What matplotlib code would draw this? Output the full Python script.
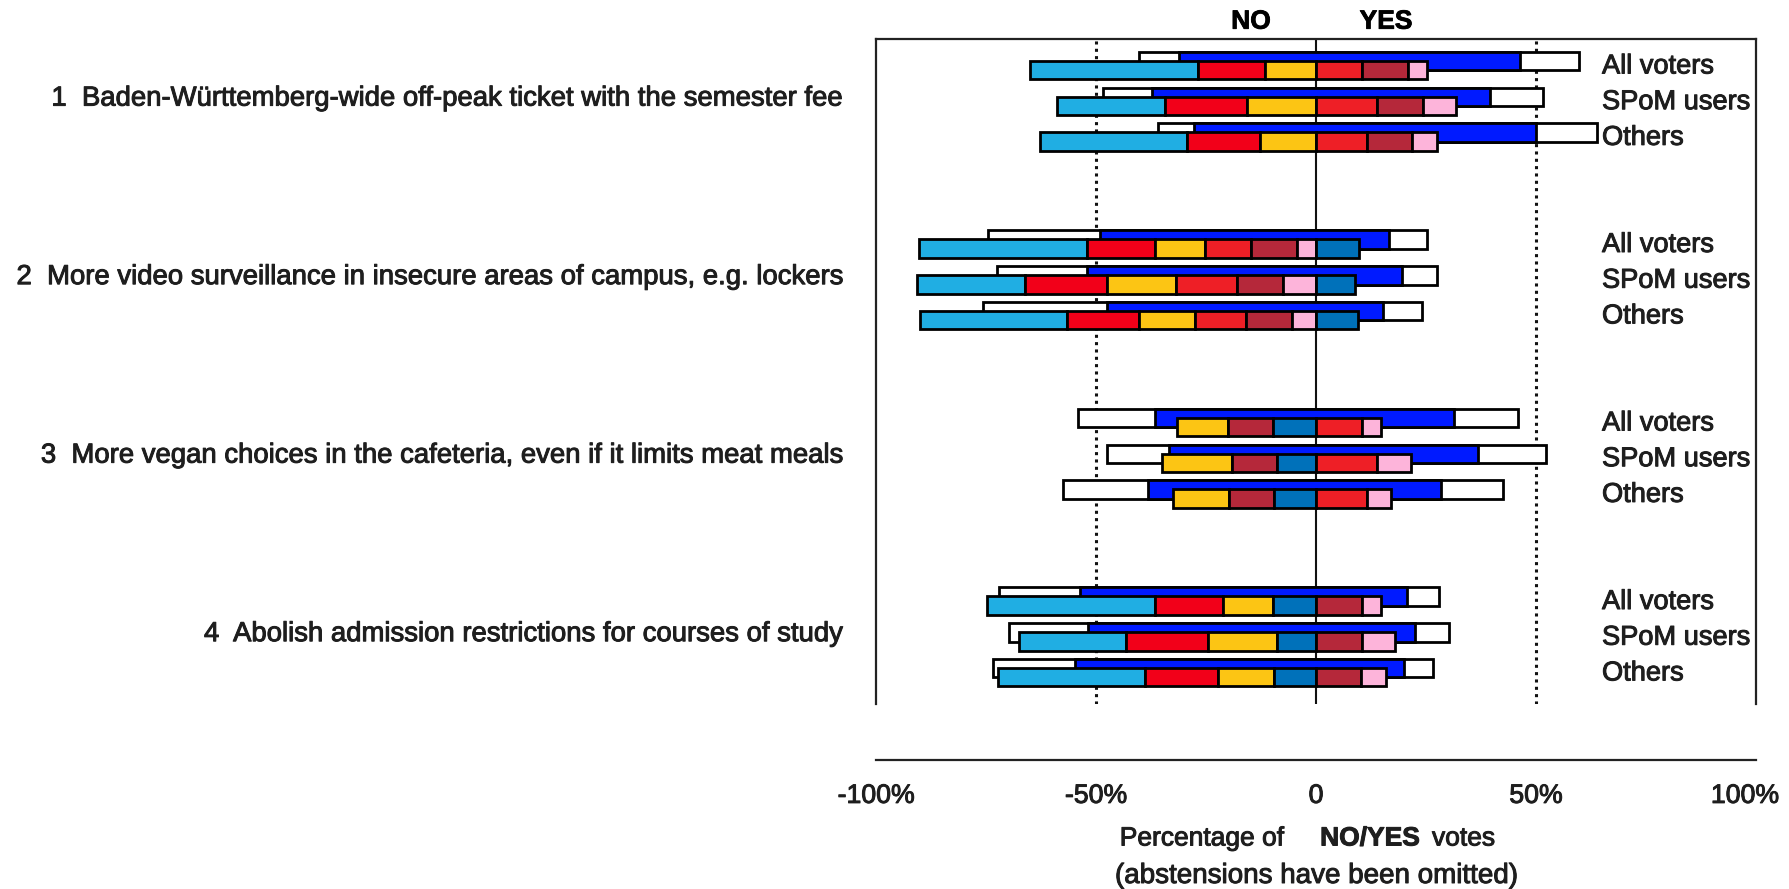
import matplotlib
matplotlib.use("Agg")
import matplotlib.pyplot as plt
import matplotlib.transforms as mtransforms
import matplotlib.patheffects as pe

plt.rcParams['font.family'] = ['Liberation Sans', 'DejaVu Sans']

# ---------------- data ----------------
questions = [
    "1  Baden-Württemberg-wide off-peak ticket with the semester fee",
    "2  More video surveillance in insecure areas of campus, e.g. lockers",
    "3  More vegan choices in the cafeteria, even if it limits meat meals",
    "4  Abolish admission restrictions for courses of study",
]
groups = ["All voters", "SPoM users", "Others"]

party_colors = ['#20AEE3', '#F20019', '#FCC514', '#EE1F26', '#B5283A', '#FDB4DA', '#0071BA']

# share of each party-list per voter group (%)
shares_all = [38.2, 15.3, 11.5, 10.4, 10.4, 4.4, 9.7]
shares_spom = [24.5, 18.6, 15.7, 13.9, 10.4, 7.6, 8.8]
shares_others = [33.4, 16.5, 12.8, 11.6, 10.3, 5.5, 9.5]

# recommendation of each party per question: -1 = NO, 1 = YES, 0 = none
positions_q1 = [-1, -1, -1, 1, 1, 1, 0]
positions_q2 = [-1, -1, -1, -1, -1, -1, 1]
positions_q3 = [0, 0, -1, 1, -1, 1, -1]
positions_q4 = [-1, -1, -1, 0, 1, 1, -1]

# votes incl. abstentions (blue bar), per question: [All, SPoM, Others]
blue_no = [[31.2, 37.2, 27.8], [49.2, 52.0, 47.6], [36.6, 33.3, 38.2], [53.6, 51.8, 54.8]]
blue_yes = [[46.3, 39.6, 49.9], [16.7, 19.6, 15.2], [31.4, 36.9, 28.3], [20.7, 22.4, 20.0]]
# votes with abstensions omitted (white bar)
white_no = [[40.2, 48.5, 35.8], [74.6, 72.4, 75.7], [54.0, 47.4, 57.5], [72.1, 69.7, 73.5]]
white_yes = [[59.7, 51.5, 63.9], [25.3, 27.5, 24.2], [46.0, 52.3, 42.4], [27.9, 30.3, 26.7]]

tick_vals = [-100, -50, 0, 50, 100]
tick_labels = ['-100%', '-50%', '0', '50%', '100%']

# ---------------- figure ----------------
W, H = 1789, 889
fig = plt.figure(figsize=(W / 100, H / 100), dpi=100)
txt_col = '#1e1e1e'
thick = [pe.withStroke(linewidth=0.7, foreground=txt_col)]
thick_b = [pe.withStroke(linewidth=0.6, foreground='black')]

ax = fig.add_axes([876 / W, 1 - 704 / H, 880 / W, (704 - 38.5) / H])
ax.set_xlim(-100, 100)
ax.set_ylim(17.88, -0.76)
for s in ['top', 'left', 'right']:
    ax.spines[s].set_linewidth(1.6)
    ax.spines[s].set_color('#222222')
ax.spines['bottom'].set_visible(False)
ax.set_xticks([])
ax.set_yticks([])

ax.axvline(0, color='#111111', lw=1.5, zorder=1)
for xv in (-50, 50):
    ax.axvline(xv, color='#111111', lw=2.2, ls=(0, (1, 1.4)), zorder=1)

all_shares = [shares_all, shares_spom, shares_others]
all_pos = [positions_q1, positions_q2, positions_q3, positions_q4]

bh = 0.515
off = 0.126
for q in range(4):
    for g in range(3):
        c = 5 * q + g
        yu, yl = c - off, c + off
        wn, wy = white_no[q][g], white_yes[q][g]
        ax.barh(yu, wn + wy, left=-wn, height=bh, color='white', edgecolor='black',
                linewidth=2, zorder=3)
        bn, by = blue_no[q][g], blue_yes[q][g]
        ax.barh(yu, bn + by, left=-bn, height=bh, color='#001AFF', edgecolor='black',
                linewidth=2, zorder=4)
        sh = all_shares[g]
        pos = all_pos[q]
        no_idx = [i for i in range(7) if pos[i] < 0]
        yes_idx = [i for i in range(7) if pos[i] > 0]
        left = -sum(sh[i] for i in no_idx)
        for i in no_idx:
            ax.barh(yl, sh[i], left=left, height=bh, color=party_colors[i],
                    edgecolor='black', linewidth=2, zorder=5)
            left += sh[i]
        left = 0
        for i in yes_idx:
            ax.barh(yl, sh[i], left=left, height=bh, color=party_colors[i],
                    edgecolor='black', linewidth=2, zorder=5)
            left += sh[i]

trans_l = mtransforms.blended_transform_factory(fig.transFigure, ax.transData)
for q, label in enumerate(questions):
    ax.text(842 / W, 5 * q + 1.12, label, transform=trans_l, ha='right', va='baseline',
            fontsize=19.8, color=txt_col, clip_on=False, path_effects=thick)
    for g, gl in enumerate(groups):
        ax.text(1602 / W, 5 * q + g + 0.22, gl, transform=trans_l, ha='left',
                va='baseline', fontsize=19.6, color=txt_col, clip_on=False,
                path_effects=thick)

# x axis
ax2 = fig.add_axes([876 / W, 1 - 760 / H, 880 / W, 0.0001])
ax2.set_xlim(-100, 100)
for s in ['top', 'left', 'right']:
    ax2.spines[s].set_visible(False)
ax2.spines['bottom'].set_linewidth(1.6)
ax2.spines['bottom'].set_color('#222222')
ax2.patch.set_visible(False)
ax2.set_yticks([])
ax2.set_xticks([])
for k, (v, lab) in enumerate(zip(tick_vals, tick_labels)):
    dx = -8 if k == len(tick_vals) - 1 else 0
    ax2.annotate(lab, xy=(v, 0), xycoords=('data', 'axes fraction'),
                 xytext=(dx, -16.5), textcoords='offset points', ha='center', va='top',
                 fontsize=19.2, color=txt_col, annotation_clip=False, path_effects=thick)

# header
fig.text(1251 / W, 1 - 21.7 / H, 'NO', ha='center', va='center', fontsize=19,
         fontweight='bold', color='black', path_effects=thick_b)
fig.text(1386 / W, 1 - 21.7 / H, 'YES', ha='center', va='center', fontsize=19,
         fontweight='bold', color='black', path_effects=thick_b)

# axis title
fig.text(1284 / W, 1 - 845.5 / H, 'Percentage of', ha='right', va='baseline',
         fontsize=19, color=txt_col, path_effects=thick)
fig.text(1370 / W, 1 - 845.5 / H, 'NO/YES', ha='center', va='baseline',
         fontsize=19, fontweight='bold', color=txt_col, path_effects=thick)
fig.text(1432 / W, 1 - 845.5 / H, 'votes', ha='left', va='baseline',
         fontsize=19, color=txt_col, path_effects=thick)
fig.text(1316 / W, 1 - 883 / H, '(abstensions have been omitted)', ha='center',
         va='baseline', fontsize=20, color=txt_col, path_effects=thick)

fig.savefig('out.png', dpi=100)
